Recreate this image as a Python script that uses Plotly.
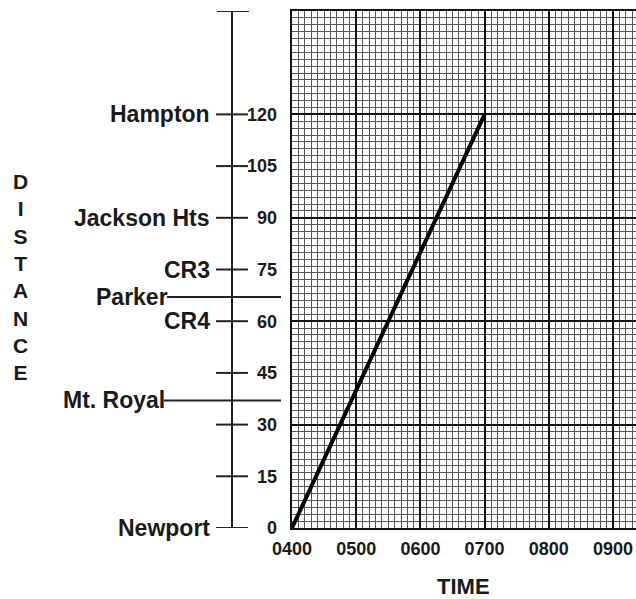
import plotly.graph_objects as go

# trip drawn on the time-distance chart
trip_hours = [4, 7]
trip_miles = [0, 120]

# distance scale on the left ruler
scale_ticks = [0, 15, 30, 45, 60, 75, 90, 105, 120]
scale_top = 150

# places along the route
places = ["Hampton", "Jackson Hts", "CR3", "Parker", "CR4", "Mt. Royal", "Newport"]
place_miles = [120, 90, 75, 67, 60, 37, 0]
long_marks = ["Parker", "Mt. Royal"]

# time axis
time_vals = [4, 5, 6, 7, 8, 9]
time_text = ["0400", "0500", "0600", "0700", "0800", "0900"]

FONT = "Liberation Sans, Arial, Helvetica, sans-serif"

W, H = 636, 599


def px(x):
    # window pixel -> paper x
    return x / W


def py(y):
    # window pixel -> paper y
    return (H - y) / H


fig = go.Figure()

fig.add_trace(go.Scatter(x=trip_hours, y=trip_miles, mode="lines",
                         line=dict(color="black", width=4), showlegend=False,
                         hoverinfo="skip"))

x_end = 4 + (W - 292) / 64.2

fig.update_layout(
    width=W, height=H,
    margin=dict(l=0, r=0, t=0, b=0),
    paper_bgcolor="white", plot_bgcolor="white",
    font=dict(family=FONT, color="#1a1a1a", weight="bold"),
    xaxis=dict(domain=[px(292), 1], range=[4, x_end], automargin=False,
               tickvals=time_vals, ticktext=time_text, tickfont=dict(size=18),
               ticks="", ticklabelstandoff=3,
               showgrid=True, gridcolor="#111", gridwidth=2,
               minor=dict(dtick=0.1, showgrid=True, gridcolor="#555", gridwidth=1),
               showline=True, mirror=True, linecolor="#111", linewidth=2,
               zeroline=False, fixedrange=True),
    yaxis=dict(domain=[py(528), py(11)], range=[0, scale_top], automargin=False,
               dtick=30, tick0=0, showticklabels=False, ticks="",
               showgrid=True, gridcolor="#111", gridwidth=2,
               minor=dict(dtick=2, showgrid=True, gridcolor="#555", gridwidth=1),
               showline=True, linecolor="#111", linewidth=2,
               zeroline=False, fixedrange=True),
    yaxis2=dict(domain=[py(528), py(11)], range=[0, scale_top], overlaying="y",
                anchor="x", side="left", automargin=False,
                tickvals=scale_ticks, ticktext=[str(v) for v in scale_ticks],
                tickfont=dict(size=18), ticks="", ticklabelstandoff=14,
                showgrid=False, zeroline=False, showline=False, fixedrange=True),
)

# a dummy trace so yaxis2 is drawn
fig.add_trace(go.Scatter(x=[None], y=[None], yaxis="y2", showlegend=False))

# ruler on the left
fig.add_shape(type="line", xref="paper", yref="y", x0=px(232), x1=px(232),
              y0=0, y1=scale_top, line=dict(color="#222", width=2))
fig.add_shape(type="line", xref="paper", yref="y", x0=px(217), x1=px(249),
              y0=scale_top, y1=scale_top, line=dict(color="#222", width=2))
for v in scale_ticks:
    fig.add_shape(type="line", xref="paper", yref="y", x0=px(216), x1=px(248),
                  y0=v, y1=v, line=dict(color="#222", width=2))

# place names
for name, d in zip(places, place_miles):
    if name in long_marks:
        right = 170 if name == "Parker" else 167
        fig.add_shape(type="line", xref="paper", yref="y", x0=px(right - 3), x1=px(281),
                      y0=d, y1=d, line=dict(color="#222", width=2))
    else:
        right = 212
    fig.add_annotation(text=name, xref="paper", yref="y", x=px(right), y=d,
                       xanchor="right", yanchor="middle", showarrow=False,
                       font=dict(size=23, family=FONT, weight="bold"))

fig.add_annotation(text="<br>".join("DISTANCE"), xref="paper", yref="paper",
                   x=px(20), y=py(277), xanchor="center", yanchor="middle",
                   showarrow=False, align="center",
                   font=dict(size=21, family=FONT, weight="bold"))
fig.add_annotation(text="TIME", xref="paper", yref="paper",
                   x=px(464), y=py(586), xanchor="center", yanchor="middle",
                   showarrow=False, font=dict(size=22, family=FONT, weight="bold"))

# drop the default page margin so the figure sits at the window corner
fig.write_html("out.html", config={"displayModeBar": False},
               post_script="document.body.style.margin='0';"
                           "document.body.style.overflow='hidden';")
